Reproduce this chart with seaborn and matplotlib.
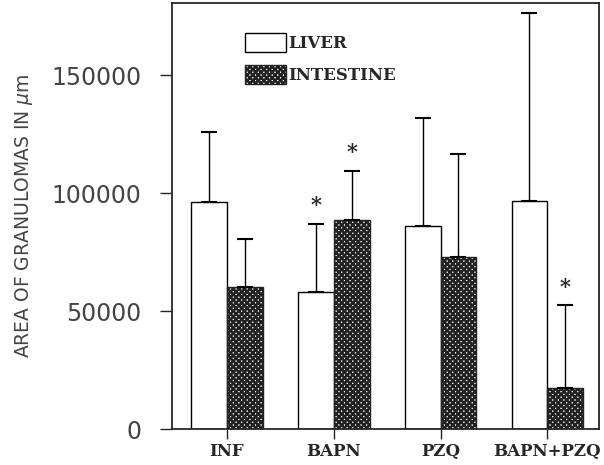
import pandas as pd
import numpy as np
import matplotlib.pyplot as plt
import seaborn as sns
from matplotlib.patches import Patch

# valores
grupos = ["INF", "BAPN", "PZQ", "BAPN+PZQ"]
figado = [96000, 58000, 86000, 96500]
figado_dp = [30000, 29000, 46000, 80000]
intestino = [60000, 88500, 73000, 17500]
intestino_dp = [20500, 21000, 43500, 35000]
asteriscos = [("BAPN", "LIVER"), ("BAPN", "INTESTINE"), ("BAPN+PZQ", "INTESTINE")]

df = pd.DataFrame({
    "grupo": grupos * 2,
    "tecido": ["LIVER"] * 4 + ["INTESTINE"] * 4,
    "area": figado + intestino,
    "dp": figado_dp + intestino_dp,
})

sns.set_style("ticks")
plt.rcParams["hatch.linewidth"] = 1.8
HATCH = "xxxxxx"

fig = plt.figure(figsize=(6.04, 4.65), dpi=100)
ax = fig.add_axes([0.285, 0.0774, 0.707, 0.916])

sns.barplot(data=df, x="grupo", y="area", hue="tecido", order=grupos,
            hue_order=["LIVER", "INTESTINE"], palette=["white", "white"],
            edgecolor="black", linewidth=1.0, width=0.67, gap=0,
            errorbar=None, legend=False, ax=ax)

# hachura no intestino + barras de erro
n = len(grupos)
for i, p in enumerate(ax.patches[:2 * n]):
    tecido = "LIVER" if i < n else "INTESTINE"
    g = grupos[i % n]
    linha = df[(df.grupo == g) & (df.tecido == tecido)].iloc[0]
    if tecido == "INTESTINE":
        p.set_hatch(HATCH)
        p.set_edgecolor("#222222")
    xc = p.get_x() + p.get_width() / 2
    ax.errorbar(xc, linha.area, yerr=[[0], [linha.dp]], fmt="none",
                ecolor="black", elinewidth=1.0, capsize=6, capthick=1.5)
    if (g, tecido) in asteriscos:
        ax.annotate("*", xy=(xc, linha.area + linha.dp), xytext=(0, 6),
                    textcoords="offset points", ha="center", va="bottom",
                    fontsize=15, fontweight="bold", family="DejaVu Serif")

ax.set_xlim(-0.514, 3.486)
ax.set_ylim(0, 180500)
ax.set_yticks([0, 50000, 100000, 150000])
ax.set_yticklabels(["0", "50000", "100000", "150000"],
                   family="DejaVu Sans", fontsize=17, color="#444444")
ax.set_xticks(range(n))
ax.set_xticklabels(grupos, family="DejaVu Serif", fontweight="bold", fontsize=12)
ax.tick_params(axis="y", direction="out", length=9, width=1, pad=13)
ax.tick_params(axis="x", direction="out", length=7, width=1, pad=3)
ax.set_xlabel("")
ax.set_ylabel("AREA OF GRANULOMAS IN $\\mu$m", family="DejaVu Sans",
              fontsize=13.5, color="#444444", labelpad=12)
for s in ax.spines.values():
    s.set_visible(True)
    s.set_linewidth(1.3)

handles = [Patch(facecolor="white", edgecolor="black", label="LIVER"),
           Patch(facecolor="white", edgecolor="#222222", hatch=HATCH, label="INTESTINE")]
ax.legend(handles=handles, loc="upper left", bbox_to_anchor=(0.135, 0.965),
          frameon=False, handlelength=2.5, handleheight=1.4, handletextpad=0.1,
          labelspacing=0.75, prop={"family": "DejaVu Serif", "weight": "bold", "size": 12})

plt.savefig("out.png", dpi=100)
